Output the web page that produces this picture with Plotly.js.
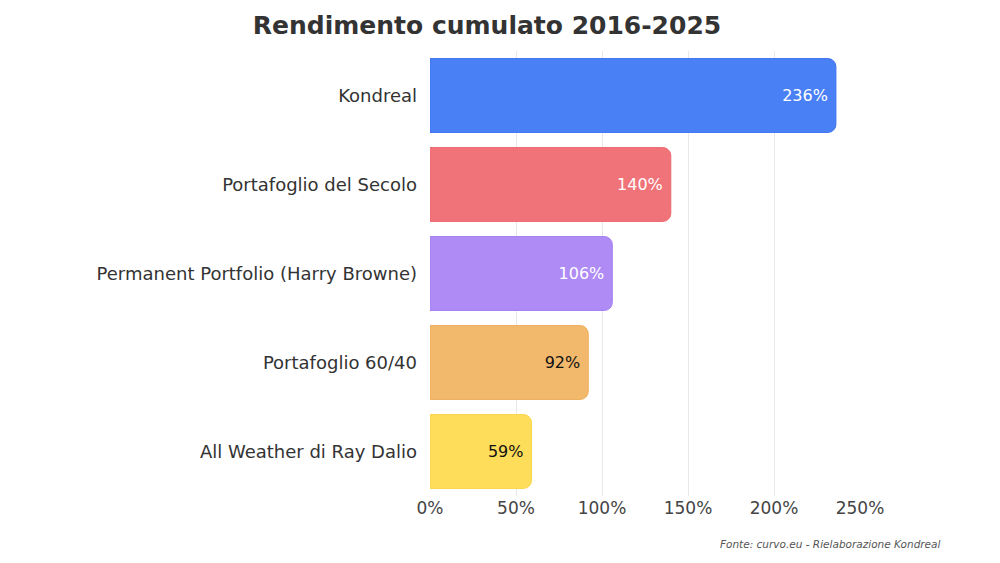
<!DOCTYPE html>
<html>
<head>
<meta charset="utf-8">
<script src="https://cdn.plot.ly/plotly-3.0.1.min.js"></script>
<style>
  html, body {margin: 0; padding: 0; background: #fff;}
  #chart {width: 1000px; height: 563px;}
</style>
</head>
<body>
<div id="chart"></div>
<script>
// data
var portfolios = ['Kondreal', 'Portafoglio del Secolo', 'Permanent Portfolio (Harry Browne)', 'Portafoglio 60/40', 'All Weather di Ray Dalio']
var returns = [236, 140, 106, 92, 59]
var barColors = ['#4a80f5', '#f07379', '#ae8bf5', '#f2b86c', '#fddd5a']
var lineColors = ['#3f74ee', '#ec6a70', '#a37ff2', '#efae5c', '#fbd54a']
var labelColors = ['#ffffff', '#ffffff', '#ffffff', '#111111', '#111111']
var tickVals = [0, 50, 100, 150, 200, 250]
var tickText = ['0%', '50%', '100%', '150%', '200%', '250%']

var FONT = '"DejaVu Sans", "Open Sans", sans-serif'

var trace = {
    type: 'bar',
    orientation: 'h',
    x: returns,
    y: portfolios,
    text: returns.map(function (v) {return v + '%'}),
    textposition: 'inside',
    insidetextanchor: 'end',
    textangle: 0,
    insidetextfont: {family: FONT, size: 16, color: labelColors},
    marker: {
        color: barColors,
        line: {color: lineColors, width: 1},
        cornerradius: 8,
    },
    hoverinfo: 'none',
    cliponaxis: false,
}

// plot area in pixels
var mL = 430, mR = 140, mT = 51, mB = 67
var plotW = 1000 - mL - mR
var plotH = 563 - mT - mB

var layout = {
    width: 1000,
    height: 563,
    paper_bgcolor: '#ffffff',
    plot_bgcolor: '#ffffff',
    showlegend: false,
    bargap: 0.17,
    margin: {l: mL, r: mR, t: mT, b: mB},
    font: {family: FONT, color: '#333'},
    title: {
        text: '<b>Rendimento cumulato 2016-2025</b>',
        font: {family: FONT, size: 25, color: '#333'},
        x: 0.487, xref: 'container', xanchor: 'center',
        y: 0.955, yref: 'container', yanchor: 'middle',
    },
    xaxis: {
        range: [0, 250],
        tickvals: tickVals,
        ticktext: tickText,
        showgrid: true,
        gridcolor: '#e8e8e8',
        gridwidth: 1,
        zeroline: false,
        showline: false,
        ticks: '',
        tickfont: {family: FONT, size: 17, color: '#444'},
        fixedrange: true,
    },
    yaxis: {
        autorange: 'reversed',
        showgrid: false,
        zeroline: false,
        ticks: '',
        ticklabelstandoff: 12,
        tickfont: {family: FONT, size: 18, color: '#333'},
        fixedrange: true,
    },
    annotations: [{
        text: 'Fonte: curvo.eu - Rielaborazione Kondreal',
        xref: 'paper', yref: 'paper',
        x: (943 - mL) / plotW,
        y: -(544 - (563 - mB)) / plotH,
        xanchor: 'right', yanchor: 'middle',
        showarrow: false,
        font: {family: FONT, size: 10.5, color: '#555', style: 'italic'},
    }],
}

Plotly.newPlot('chart', [trace], layout, {displayModeBar: false, staticPlot: true})
</script>
</body>
</html>
